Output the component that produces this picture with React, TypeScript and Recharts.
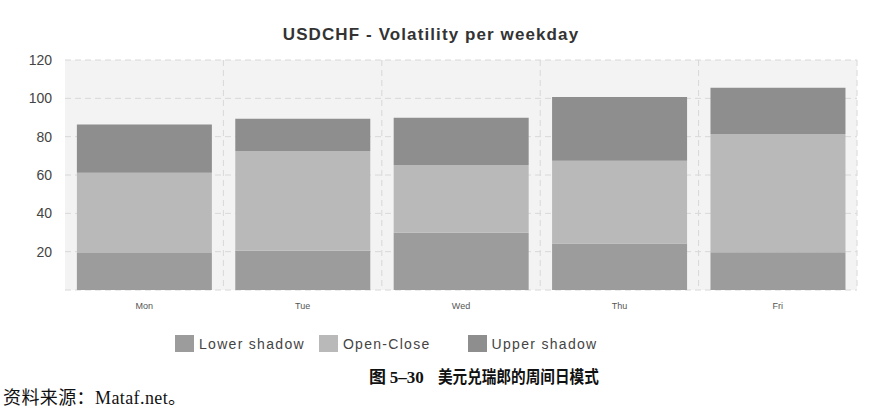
import { Bar, BarChart, CartesianGrid, Legend, XAxis, YAxis } from 'recharts'

const weekdays = ['Mon', 'Tue', 'Wed', 'Thu', 'Fri']
const lowerShadow = [19.3, 20.5, 29.9, 24.3, 19.7]
const openClose = [41.9, 52.0, 35.3, 43.2, 61.7]
const upperShadow = [25.2, 16.9, 24.7, 33.2, 24.1]
const yTicks = [20, 40, 60, 80, 100, 120]

const rows = weekdays.map((day, i) => ({
  day,
  'Lower shadow': lowerShadow[i],
  'Open-Close': openClose[i],
  'Upper shadow': upperShadow[i],
}))

const colors = {
  'Lower shadow': '#9c9c9c',
  'Open-Close': '#b9b9b9',
  'Upper shadow': '#8e8e8e',
}

const legendGaps = [14, 37, 0]
const sans = 'Arial, "Liberation Sans", sans-serif'

function LegendBox() {
  const names = Object.keys(colors) as (keyof typeof colors)[]
  return (
    <div style={{ display: 'flex', justifyContent: 'flex-start', paddingLeft: 175, fontFamily: sans, fontSize: 14, color: '#444' }}>
      {names.map((n, i) => (
        <div key={n} style={{ display: 'flex', alignItems: 'center', marginRight: legendGaps[i] }}>
          <span style={{ display: 'inline-block', width: 19, height: 17, background: colors[n], marginRight: 5 }} />
          <span style={{ letterSpacing: 1.3 }}>{n}</span>
        </div>
      ))}
    </div>
  )
}

export default function App() {
  return (
    <div style={{ position: 'absolute', left: 0, top: 0, width: 874, height: 408, background: '#fff', overflow: 'hidden' }}>
      <div style={{ position: 'absolute', top: 25, left: 0, width: 862, textAlign: 'center', fontFamily: sans, fontWeight: 'bold', fontSize: 17, letterSpacing: 1.1, color: '#333' }}>
        USDCHF - Volatility per weekday
      </div>
      <BarChart width={874} height={362} data={rows} margin={{ top: 60, right: 17, left: 0, bottom: 25 }} barCategoryGap="7.5%">
        <CartesianGrid
          stroke="#d8d8d8"
          strokeDasharray="6 4"
          fill="#f3f3f3"
          verticalCoordinatesGenerator={({ offset }: any) =>
            weekdays.map((_, i) => offset.left + (offset.width * (i + 1)) / weekdays.length)
          }
        />
        <XAxis dataKey="day" tickLine={false} axisLine={false} tickMargin={7} tick={{ fontSize: 9, fill: '#555', fontFamily: sans }} />
        <YAxis width={65} domain={[0, 120]} ticks={yTicks} tickLine={false} axisLine={false} tickMargin={7} tick={{ fontSize: 14, fill: '#444', fontFamily: sans }} />
        <Legend verticalAlign="bottom" content={() => <LegendBox />} wrapperStyle={{ bottom: 10 }} />
        <Bar dataKey="Lower shadow" stackId="a" fill={colors['Lower shadow']} isAnimationActive={false} />
        <Bar dataKey="Open-Close" stackId="a" fill={colors['Open-Close']} isAnimationActive={false} />
        <Bar dataKey="Upper shadow" stackId="a" fill={colors['Upper shadow']} isAnimationActive={false} />
      </BarChart>
      <div style={{ position: 'absolute', top: 363, left: 369, fontSize: 17, color: '#111', fontWeight: 'bold', whiteSpace: 'nowrap' }}>
        <span style={{ fontFamily: '"Noto Sans CJK SC", sans-serif' }}>图 </span>
        <span style={{ fontFamily: '"Liberation Serif", serif' }}>5–30</span>
        <span style={{ display: 'inline-block', marginLeft: 14, fontFamily: '"Noto Sans CJK SC", sans-serif', transform: 'scaleX(0.86)', transformOrigin: 'left center' }}>
          美元兑瑞郎的周间日模式
        </span>
      </div>
      <div style={{ position: 'absolute', top: 386, left: 3, fontSize: 18, lineHeight: '20px', letterSpacing: 0.4, color: '#111', fontFamily: '"Noto Sans CJK SC", "Liberation Serif", serif', whiteSpace: 'nowrap' }}>
        资料来源：<span style={{ fontFamily: '"Liberation Serif", serif' }}>Mataf.net</span>。
      </div>
    </div>
  )
}
